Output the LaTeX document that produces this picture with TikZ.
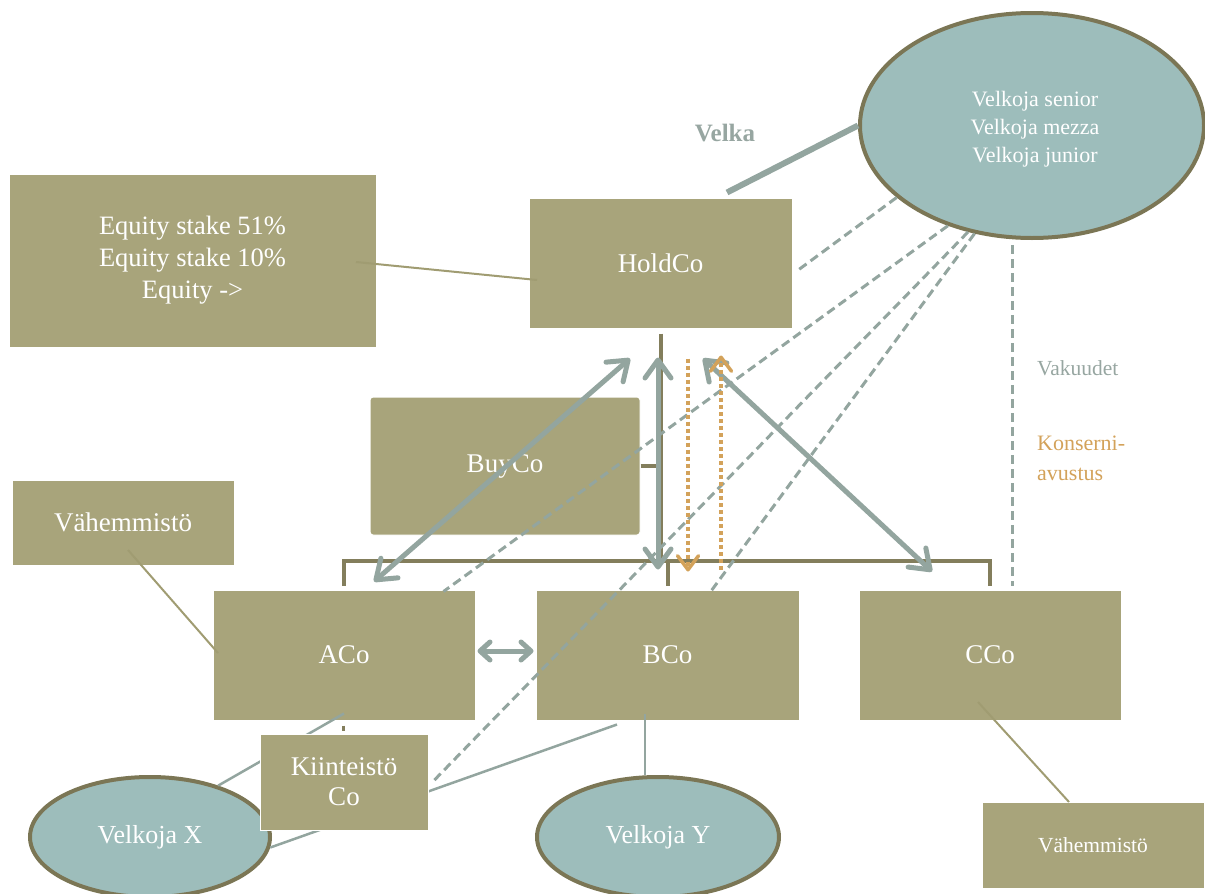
\documentclass[tikz,border=0pt]{standalone}
\usepackage{fontspec}
\setmainfont{Liberation Serif}
\usetikzlibrary{arrows.meta,shapes.geometric,calc}
\definecolor{boxc}{HTML}{A8A47B}
\definecolor{ellc}{HTML}{9DBDBB}
\definecolor{elld}{HTML}{7B7655}
\definecolor{greyl}{HTML}{93A59F}
\definecolor{greyt}{HTML}{97A6A1}
\definecolor{olived}{HTML}{837E5C}
\definecolor{olivel}{HTML}{A09C72}
\definecolor{orng}{HTML}{D3A25A}
\begin{document}
\begin{tikzpicture}[x=1pt,y=-1pt,
  box/.style={rectangle, fill=boxc, draw=white, line width=1pt, text=white, inner sep=0pt, align=center, font=\fontsize{27}{30}\selectfont},
  cred/.style={ellipse, fill=ellc, draw=elld, line width=4pt, text=white, inner sep=0pt, align=center, font=\fontsize{26}{30}\selectfont},
  lbl/.style={inner sep=0pt, align=left},
  org/.style={draw=olived, line width=4pt},
  conn/.style={draw=olivel, line width=2pt},
  thinline/.style={draw=greyl, line width=2.5pt},
  vdash/.style={draw=greyl, line width=3pt, dash pattern=on 9pt off 5pt},
  garrow/.style={draw=greyl, line width=5pt, >={Straight Barb[length=18pt,width=26pt,round]}, <->},
  oarrow/.style={draw=orng, line width=4pt, dash pattern=on 4pt off 3pt, >={Straight Barb[length=14pt,width=21pt,line width=3.5pt,round]}, ->}]
\useasboundingbox (0,0) rectangle (1205,894);

% boxes and creditors
\node[box, minimum width=367pt, minimum height=173pt, font=\fontsize{26.5}{32}\selectfont] (eq) at (192.5,260.5) {Equity stake 51\%\\Equity stake 10\%\\Equity ->};
\node[box, minimum width=263pt, minimum height=130pt] (hold) at (660.5,263) {HoldCo};
\node[box, rounded corners=3pt, minimum width=270pt, minimum height=138pt] (buy) at (505,466) {BuyCo};
\node[box, minimum width=222pt, minimum height=85pt] (vl) at (123,522.5) {Vähemmistö};
\node[box, minimum width=262pt, minimum height=130pt] (aco) at (344,655) {ACo};
\node[box, minimum width=263pt, minimum height=130pt] (bco) at (667.5,655) {BCo};
\node[box, minimum width=262pt, minimum height=130pt] (cco) at (990,655) {CCo};
\node[box, minimum width=222pt, minimum height=86pt, font=\fontsize{21.5}{26}\selectfont] (vr) at (1093,845) {Vähemmistö};
\node[cred, minimum width=344pt, minimum height=225pt] (sen) at (1032,125.5) {};
\node[inner sep=0pt, align=center, text=white, font=\fontsize{22}{28}\selectfont] (sentxt) at (1035,129) {Velkoja senior\\Velkoja mezza\\Velkoja junior};
\node[cred, minimum width=240pt, minimum height=120pt] (vx) at (150,837) {Velkoja X};
\node[cred, minimum width=242pt, minimum height=120pt] (vy) at (658,837) {Velkoja Y};

% labels
\node[lbl, font=\bfseries\fontsize{25}{30}\selectfont, text=greyt] (velka) at (725,133) {Velka};
\node[lbl, anchor=west, font=\fontsize{21.5}{26}\selectfont, text=greyt] (vak) at (1037,368) {Vakuudet};
\node[lbl, anchor=west, font=\fontsize{22}{30}\selectfont, text=orng] (kons) at (1037,458) {Konserni-\\avustus};

% creditor X / Y lines
\draw[thinline] ([yshift=7pt]aco.south) -- (vx.37);
\draw[thinline] (vx.355) -- ([xshift=-50.5pt,yshift=-4pt]bco.south);
\draw[thinline] ([xshift=-13pt]vy.north) -- ([xshift=-22.5pt,yshift=7pt]bco.south);

% ownership connectors
\draw[conn] ([xshift=163.5pt,yshift=-1.5pt]eq.center) -- ([xshift=-123.5pt,yshift=-17pt]hold.center);
\draw[conn] ([xshift=5pt,yshift=-27.5pt]vl.center) -- ([xshift=-126pt,yshift=2pt]aco.center);
\draw[conn] ([xshift=-12pt,yshift=-47pt]cco.center) -- ([xshift=-24pt,yshift=43pt]vr.center);

% Kiinteistö Co on top of the lines behind it
\node[box, minimum width=168pt, minimum height=96pt] (kii) at (344,782) {Kiinteistö\\Co};
\draw[org, line width=3pt] ([xshift=-1pt,yshift=-5pt]aco.south) -- ([xshift=-1pt,yshift=3pt]kii.north);

% org chart
\draw[org] ([yshift=4pt]aco.north) -- ([yshift=29pt]aco.north) -| ([yshift=4pt]cco.north);
\draw[org] ([yshift=4pt]bco.north) -- ([yshift=29pt]bco.north);
\draw[org] ([yshift=-5pt]hold.south) -- ([yshift=-233pt]hold.south);
\draw[org] (buy.east) -- (buy.east -| hold.south);

% collateral (dashed)
\draw[vdash] (sen.208.4) -- ([xshift=3pt,yshift=-9pt]hold.east);
\draw[vdash] (sen.230.3) -- ([xshift=-32pt,yshift=-2pt]aco.north east);
\draw[vdash] (sen.239) -- ([xshift=4pt]kii.east);
\draw[vdash] (sen.242.7) -- ([xshift=42.5pt,yshift=-3pt]bco.north);
\draw[vdash] ([xshift=-20pt,yshift=-5pt]sen.south) -- ([xshift=22pt,yshift=4pt]cco.north);

% debt flows
\draw[garrow] ([xshift=-2.5pt,yshift=-29pt]hold.south) -- ([xshift=-9.5pt,yshift=20pt]bco.north);
\draw[garrow] ([xshift=-30.5pt,yshift=-30pt]hold.south) -- ([xshift=30pt,yshift=8pt]aco.north);
\draw[garrow] ([xshift=42.5pt,yshift=-30pt]hold.south) -- ([xshift=-58pt,yshift=18pt]cco.north);
\draw[garrow, >={Straight Barb[length=10pt,width=18pt,round]}, shorten <=2pt, shorten >=2pt] ([yshift=4pt]aco.east) -- ([yshift=4pt]bco.west);

% group contributions
\draw[oarrow] ([xshift=27.5pt,yshift=-30pt]hold.south) -- ([xshift=20.5pt,yshift=18pt]bco.north);
\draw[oarrow] ([xshift=53.5pt,yshift=20pt]bco.north) -- ([xshift=60.5pt,yshift=-27pt]hold.south);

% Velka
\draw[draw=greyl, line width=6pt] (sen.west) -- ([xshift=66.5pt,yshift=5pt]hold.north);
\end{tikzpicture}
\end{document}
